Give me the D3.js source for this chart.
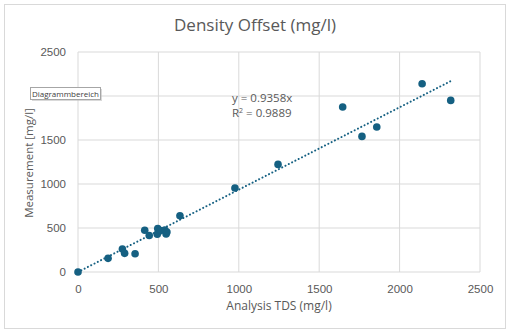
<!DOCTYPE html>
<html>
<head>
<meta charset="utf-8">
<script src="https://cdn.jsdelivr.net/npm/d3@7"></script>
<style>
  html, body { margin: 0; padding: 0; background: #fff; }
  svg { display: block; font-family: "Open Sans", "Noto Sans", sans-serif; }
</style>
</head>
<body>
<svg id="chart" width="510" height="333"></svg>
<script>
// TDS from lab analysis vs. sensor measurement (mg/l)
const tdsValues      = [0, 187, 276, 290, 355, 415, 443, 496, 493, 512, 540, 548, 553, 634, 976, 1244, 1646, 1766, 1858, 2140, 2318];
const measuredValues = [0, 155, 261, 212, 208, 474, 415, 495, 430, 470, 478, 432, 455, 640, 954, 1223, 1875, 1541, 1647, 2139, 1950];
const xTicks = [0, 500, 1000, 1500, 2000, 2500];
const yTicks = [0, 500, 1000, 1500, 2000, 2500];
const slope = 0.9358;
const rSquared = 0.9889;

const W = 510, H = 333;
const margin = { left: 78, right: 30, top: 52, bottom: 61 };
const accent = "#156082";
const textColor = "#595959";
const gridColor = "#d9d9d9";

const svg = d3.select("#chart");

// chart area frame
svg.append("rect")
    .attr("x", 4.5).attr("y", 4.5)
    .attr("width", W - 9).attr("height", H - 9)
    .attr("fill", "#fff")
    .attr("stroke", gridColor);

const x = d3.scaleLinear().domain([0, 2500]).range([margin.left, W - margin.right]);
const y = d3.scaleLinear().domain([0, 2500]).range([H - margin.bottom, margin.top]);

// gridlines
svg.append("g")
    .selectAll("line")
    .data(xTicks)
    .join("line")
    .attr("x1", d => x(d)).attr("x2", d => x(d))
    .attr("y1", y(0)).attr("y2", y(2500))
    .attr("stroke", gridColor);

svg.append("g")
    .selectAll("line")
    .data(yTicks)
    .join("line")
    .attr("x1", x(0)).attr("x2", x(2500))
    .attr("y1", d => y(d)).attr("y2", d => y(d))
    .attr("stroke", gridColor);

// axes (labels only, lines come from the grid)
const fmt = d3.format("d");
const xAxis = svg.append("g")
    .attr("transform", "translate(0," + y(0) + ")")
    .call(d3.axisBottom(x).tickValues(xTicks).tickFormat(fmt).tickSize(0).tickPadding(13));
const yAxis = svg.append("g")
    .attr("transform", "translate(" + x(0) + ",0)")
    .call(d3.axisLeft(y).tickValues(yTicks).tickFormat(fmt).tickSize(0).tickPadding(12));

[xAxis, yAxis].forEach(a => {
    a.select(".domain").remove();
    a.selectAll("text")
        .attr("fill", textColor)
        .style("font-size", "11.5px");
});

// trendline through the origin
const xMax = d3.max(tdsValues);
svg.append("line")
    .attr("x1", x(0)).attr("y1", y(0))
    .attr("x2", x(xMax)).attr("y2", y(slope * xMax))
    .attr("stroke", accent)
    .attr("stroke-width", 2)
    .attr("stroke-linecap", "round")
    .attr("stroke-dasharray", "0.1 3.6");

// points
svg.append("g")
    .selectAll("circle")
    .data(tdsValues.map((d, i) => ({ tds: d, meas: measuredValues[i] })))
    .join("circle")
    .attr("cx", d => x(d.tds))
    .attr("cy", d => y(d.meas))
    .attr("r", 3.8)
    .attr("fill", accent);

// title
svg.append("text")
    .attr("x", 255).attr("y", 31)
    .attr("text-anchor", "middle")
    .attr("fill", textColor)
    .style("font-size", "17px")
    .text("Density Offset (mg/l)");

// axis titles
svg.append("text")
    .attr("x", (x(0) + x(2500)) / 2).attr("y", 310)
    .attr("text-anchor", "middle")
    .attr("fill", textColor)
    .style("font-size", "12px")
    .text("Analysis TDS (mg/l)");

svg.append("text")
    .attr("transform", "translate(33,163) rotate(-90)")
    .attr("text-anchor", "middle")
    .attr("fill", textColor)
    .style("font-size", "11.5px")
    .text("Measurement [mg/l]");

// trendline label
const eq = svg.append("text")
    .attr("x", 232).attr("y", 102)
    .attr("fill", textColor)
    .style("font-size", "11.5px");
eq.append("tspan").text("y = " + slope + "x");
const r2 = svg.append("text")
    .attr("x", 232).attr("y", 117)
    .attr("fill", textColor)
    .style("font-size", "11.5px");
r2.append("tspan").text("R");
r2.append("tspan").attr("dy", -4).style("font-size", "7px").text("2");
r2.append("tspan").attr("dy", 4).text(" = " + rSquared);

// hover tooltip
const tip = svg.append("g").attr("transform", "translate(30.5,87.5)");
tip.append("rect")
    .attr("x", 1.5).attr("y", 1.5)
    .attr("width", 70).attr("height", 12)
    .attr("fill", "#bfbfbf").attr("opacity", 0.6);
tip.append("rect")
    .attr("width", 70).attr("height", 12)
    .attr("fill", "#fff")
    .attr("stroke", "#a6a6a6");
tip.append("text")
    .attr("x", 35).attr("y", 9)
    .attr("text-anchor", "middle")
    .attr("fill", "#404040")
    .style("font-size", "8px")
    .text("Diagrammbereich");
</script>
</body>
</html>
